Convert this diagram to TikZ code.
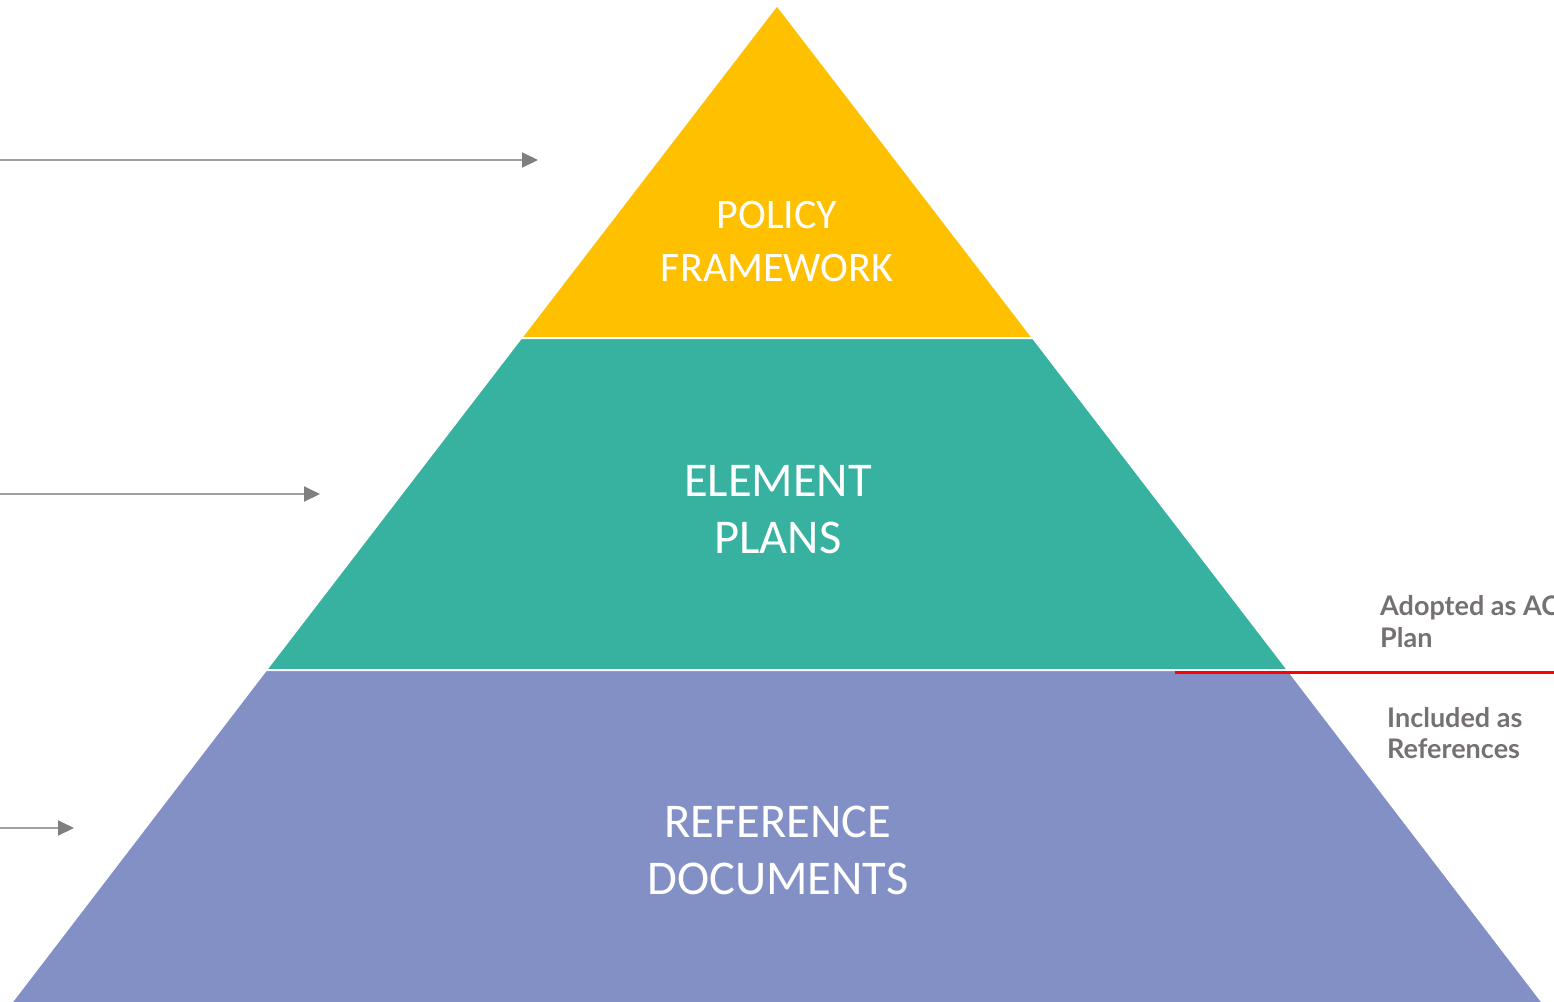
\documentclass[tikz,border=0pt]{standalone}
\usepackage{fontspec}
\setmainfont{Carlito}
\newfontfamily\sidefont{Lato}
\usetikzlibrary{arrows.meta}
\definecolor{pyryellow}{HTML}{FFC000}
\definecolor{pyrteal}{HTML}{38B2A0}
\definecolor{pyrpurple}{HTML}{8390C6}
\definecolor{arrline}{HTML}{A0A0A0}
\definecolor{arrhead}{HTML}{7F7F7F}
\definecolor{sidegray}{HTML}{767171}
\tikzset{
  layer/.style={draw=white, line width=2pt},
  laytext/.style={text=white, anchor=base, inner sep=0pt},
  ptr/.style={draw=arrline, line width=2pt, -{Triangle[length=16pt,width=15pt,color=arrhead]}},
  sidetext/.style={text=sidegray, anchor=base west, inner sep=0pt, font=\sidefont\bfseries\fontsize{27}{30}\selectfont},
  redline/.style={draw=red, line width=3pt}
}
\begin{document}
\begin{tikzpicture}[x=1pt,y=-1pt]
\useasboundingbox (0,0) rectangle (1554,1001);
\clip (0,0) rectangle (1554,1001);
% pyramid corners
\coordinate (apex) at (777,5);
\coordinate (l1) at (521,338);
\coordinate (r1) at (1033,338);
\coordinate (l2) at (266,670);
\coordinate (r2) at (1288,670);
\coordinate (l3) at (11,1003);
\coordinate (r3) at (1543,1003);
% layers
\fill[pyryellow, layer] (apex) -- (r1) -- (l1) -- cycle;
\fill[pyrteal, layer] (l1) -- (r1) -- (r2) -- (l2) -- cycle;
\fill[pyrpurple, layer] (l2) -- (r2) -- (r3) -- (l3) -- cycle;
% layer texts
\node[laytext, font=\fontsize{42}{50}\selectfont] (pf1) at (777,228) {POLICY};
\node[laytext, font=\fontsize{42}{50}\selectfont] (pf2) at (777,281) {FRAMEWORK};
\node[laytext, font=\fontsize{48.5}{58}\selectfont] (ep1) at (778,496) {ELEMENT};
\node[laytext, font=\fontsize{48.5}{58}\selectfont] (ep2) at (778,553) {PLANS};
\node[laytext, font=\fontsize{48.5}{58}\selectfont] (rd1) at (778,837) {REFERENCE};
\node[laytext, font=\fontsize{48.5}{58}\selectfont] (rd2) at (778,894) {DOCUMENTS};
% arrows
\coordinate (a1s) at (0,160);
\coordinate (a1e) at (538,160);
\coordinate (a2s) at (0,494);
\coordinate (a2e) at (320,494);
\coordinate (a3s) at (0,828);
\coordinate (a3e) at (74,828);
\draw[ptr] (a1s) -- (a1e);
\draw[ptr] (a2s) -- (a2e);
\draw[ptr] (a3s) -- (a3e);
% red divider
\coordinate (rls) at (1175,672);
\coordinate (rle) at (1554,672);
\draw[redline] (rls) -- (rle);
% side texts
\node[sidetext] (ad1) at (1380,615) {Adopted as AC};
\node[sidetext] (ad2) at (1380,647) {Plan};
\node[sidetext] (in1) at (1387,727) {Included as};
\node[sidetext] (in2) at (1387,758) {References};
\end{tikzpicture}
\end{document}
